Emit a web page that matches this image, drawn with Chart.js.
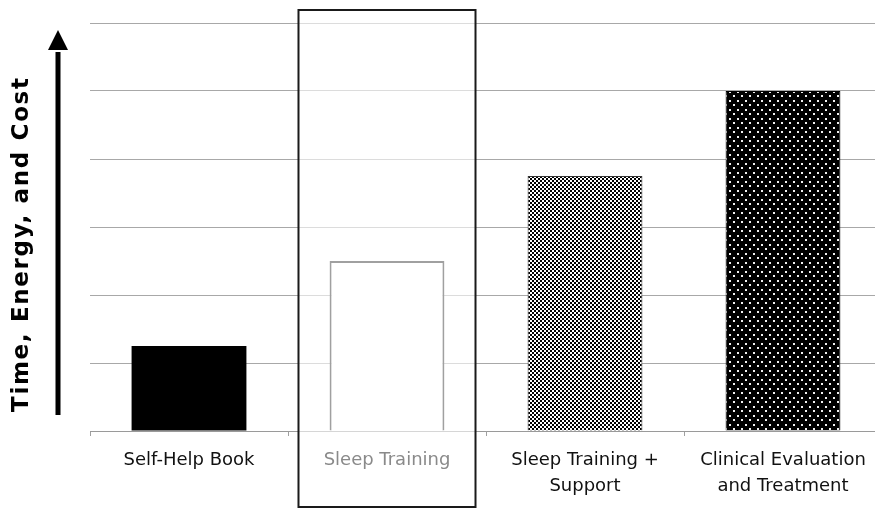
<!DOCTYPE html>
<html>
<head>
<meta charset="utf-8">
<script src="https://cdn.jsdelivr.net/npm/chart.js@4/dist/chart.umd.min.js"></script>
<style>
  html, body { margin: 0; padding: 0; overflow: hidden; background: #fff; }
  #wrap { width: 884px; height: 512px; }
</style>
</head>
<body>
<div id="wrap"><canvas id="c" width="884" height="512"></canvas></div>
<script>
// Options compared by effort required
const categories = [
  ['Self-Help Book'],
  ['Sleep Training'],
  ['Sleep Training +', 'Support'],
  ['Clinical Evaluation', 'and Treatment']
];
const effortValues = [1.25, 2.5, 3.75, 5];
const yTicks = [0, 1, 2, 3, 4, 5, 6];
const axisTitle = 'Time, Energy, and Cost';
const labelColors = ['#111111', '#8a8a8a', '#111111', '#111111'];
const highlightedIndex = 1;

const canvas = document.getElementById('c');
const ctx = canvas.getContext('2d');

// Fine black/white checkerboard fill
function checkerPattern() {
  const t = document.createElement('canvas');
  t.width = 4; t.height = 4;
  const g = t.getContext('2d');
  g.fillStyle = '#ffffff';
  g.fillRect(0, 0, 4, 4);
  g.fillStyle = '#000000';
  g.fillRect(0, 0, 2, 2);
  g.fillRect(2, 2, 2, 2);
  return ctx.createPattern(t, 'repeat');
}

// Black fill with staggered light dots
function dotPattern() {
  const t = document.createElement('canvas');
  t.width = 8; t.height = 9;
  const g = t.getContext('2d');
  g.fillStyle = '#000000';
  g.fillRect(0, 0, 8, 9);
  g.fillStyle = '#f2f2f2';
  g.fillRect(1, 1, 2, 2);
  g.fillRect(5, 5, 2, 2);
  return ctx.createPattern(t, 'repeat');
}

function highlightRect(chart) {
  const x = chart.scales.x;
  const center = x.getPixelForValue(highlightedIndex);
  const step = x.getPixelForValue(1) - x.getPixelForValue(0);
  const w = step * 0.894;
  return { l: center - w / 2, r: center + w / 2, t: chart.chartArea.top - 13, b: chart.height - 5 };
}

const decor = {
  id: 'decor',
  beforeDatasetsDraw(chart) {
    const c = chart.ctx;
    const box = highlightRect(chart);
    const area = chart.chartArea;
    c.save();
    c.fillStyle = 'rgba(255,255,255,0.6)';
    c.fillRect(box.l, area.top - 2, box.r - box.l, area.bottom - area.top + 3);
    c.restore();
  },
  afterDraw(chart) {
    const c = chart.ctx;
    const area = chart.chartArea;
    const box = highlightRect(chart);

    // frame around the highlighted option
    c.save();
    c.strokeStyle = '#1a1a1a';
    c.lineWidth = 2;
    c.strokeRect(box.l, box.t, box.r - box.l, box.b - box.t);
    c.restore();

    // upward arrow beside the value axis
    const ax = area.left - 32;
    const tipY = area.top + 7;
    const baseY = tipY + 20;
    const endY = area.bottom - 16;
    c.save();
    c.strokeStyle = '#000';
    c.fillStyle = '#000';
    c.lineWidth = 5;
    c.beginPath();
    c.moveTo(ax, endY);
    c.lineTo(ax, baseY + 2);
    c.stroke();
    c.beginPath();
    c.moveTo(ax, tipY);
    c.lineTo(ax - 10, baseY);
    c.lineTo(ax + 10, baseY);
    c.closePath();
    c.fill();
    c.restore();

    // value axis title
    c.save();
    c.translate(area.left - 68, area.top + 222);
    c.rotate(-Math.PI / 2);
    c.font = 'bold 23px "DejaVu Sans"';
    const w0 = c.measureText(axisTitle).width;
    const spacing = Math.max(0, (334 - w0) / (axisTitle.length - 1));
    c.letterSpacing = spacing.toFixed(2) + 'px';
    c.fillStyle = '#000';
    c.textAlign = 'center';
    c.textBaseline = 'middle';
    c.fillText(axisTitle, spacing / 2, 0);
    c.restore();
  }
};

new Chart(ctx, {
  type: 'bar',
  data: {
    labels: categories,
    datasets: [{
      data: effortValues,
      backgroundColor: ['#000000', '#ffffff', checkerPattern(), dotPattern()],
      borderColor: ['#000000', '#a0a0a0', '#333333', '#000000'],
      borderWidth: [0, 2, 1, 1],
      categoryPercentage: 1,
      barPercentage: 0.58
    }]
  },
  options: {
    responsive: false,
    animation: false,
    layout: { padding: { left: 90, top: 23, right: 2, bottom: 2 } },
    plugins: { legend: { display: false }, tooltip: { enabled: false } },
    scales: {
      x: {
        grid: { display: true, drawOnChartArea: false, drawTicks: true, tickLength: 5, color: '#a0a0a0', offset: true },
        border: { display: true, color: '#9a9a9a', width: 1 },
        ticks: {
          color: labelColors,
          font: { family: 'DejaVu Sans', size: 18, lineHeight: 26 / 18 },
          padding: 11,
          maxRotation: 0,
          autoSkip: false
        }
      },
      y: {
        min: yTicks[0],
        max: yTicks[yTicks.length - 1],
        afterBuildTicks(scale) { scale.ticks = yTicks.map(v => ({ value: v })); },
        ticks: { display: false },
        grid: { color: '#a8a8a8', drawTicks: false, lineWidth: 1 },
        border: { display: false }
      }
    }
  },
  plugins: [decor]
});
</script>
</body>
</html>
